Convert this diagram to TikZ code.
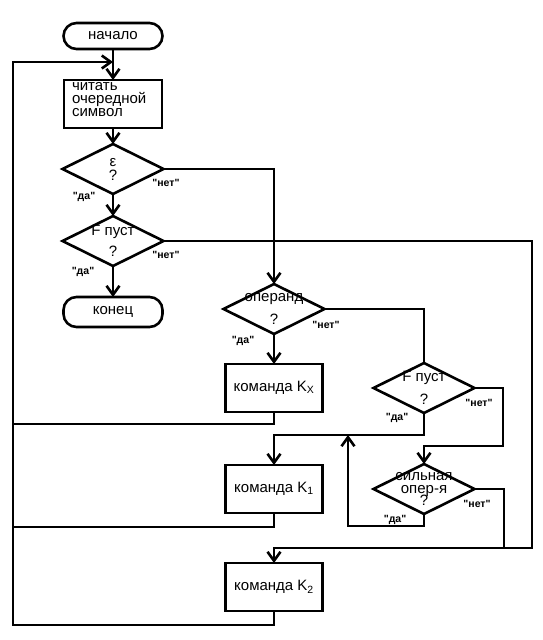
\documentclass[tikz,border=0pt]{standalone}
\usepackage{fontspec}
\setmainfont{Liberation Sans}
\usetikzlibrary{calc,arrows.meta,positioning,shapes.geometric}

\newcommand{\ans}[1]{\textquotedbl#1\textquotedbl}

\begin{document}
\begin{tikzpicture}[x=1pt,y=-1pt,line width=2.6pt,
    >={Straight Barb[length=9pt,width=13pt]},
    terminal/.style={
    % The shape:
    rectangle,minimum width=99pt,minimum height=26pt,rounded corners=13pt,
    % The rest
    draw,outer sep=0pt,font=\fontsize{15}{12.5}\selectfont},
    command/.style={
    % The shape:
    rectangle,minimum width=97pt,minimum height=48pt,
    % The rest
    draw,outer sep=0pt,font=\fontsize{15}{13}\selectfont},
    test/.style={
    % The shape:
    diamond,minimum width=101pt,minimum height=50pt,inner sep=0pt,
    % The rest
    draw,outer sep=0pt},
    question/.style={font=\fontsize{15}{12.5}\selectfont,align=center,inner sep=0pt,anchor=base},
    answer/.style={font=\fontsize{10.5}{10}\selectfont\bfseries,inner sep=0pt}]
    \useasboundingbox (0,0) rectangle (543,640);
    % left column
    \node (start) [terminal] at (113,36) {начало};
    \node (read) [command,minimum width=98pt,align=left,text width=82pt,inner xsep=8pt,inner ysep=0pt,
      text height=8pt,text depth=36pt,below=31pt of start] {читать\\очередной\\символ};
    \node (eps) [test,below=16pt of read,label={[question]center:{ε\\[1.5pt]?}}] {};
    \node (fempty) [test,below=22pt of eps,label={[question]center:{F пуст\\[7pt]?}}] {};
    \node (finish) [terminal,minimum height=30pt,below=31pt of fempty] {конец};
    % middle column
    \node (operand) [test,label={[question]center:{операнд\\[8pt]?}}] at (274,309) {};
    \node (kx) [command,below=30pt of operand] {команда K\textsubscript{X}};
    \node (k1) [command,below=53pt of kx] {команда K\textsubscript{1}};
    \node (k2) [command,below=50pt of k1] {команда K\textsubscript{2}};
    % right column
    \node (fempty2) [test,label={[question]center:{F пуст\\[8pt]?}}] at (424,388) {};
    \node (strong) [test,below=51pt of fempty2,
      label={[question]center:{сильная\\[0.5pt]опер-я\\[-2.5pt]?}}] {};
    % answers
    \node (epsno) [answer] at (166,183) {\ans{нет}};
    \node (epsyes) [answer] at (84,197) {\ans{да}};
    \node (fno) [answer] at (166,255) {\ans{нет}};
    \node (fyes) [answer] at (83,272) {\ans{да}};
    \node (opno) [answer] at (326,325) {\ans{нет}};
    \node (opyes) [answer] at (243,341) {\ans{да}};
    \node (f2no) [answer] at (479,403) {\ans{нет}};
    \node (f2yes) [answer] at (397,418) {\ans{да}};
    \node (strongno) [answer] at (477,504) {\ans{нет}};
    \node (strongyes) [answer] at (395,520) {\ans{да}};
    \coordinate (join) at (113,62);
    \coordinate (merge) at (348,435);
    % connectors
    \draw[->] (start) -- (read);
    \draw[->] (read) -- (eps);
    \draw[->] (eps) -- (fempty);
    \draw[->] (fempty) -- (finish);
    \draw[->] (eps.east) -| (operand.north);
    \draw[->] (operand) -- (kx);
    \draw (operand.east) -| (fempty2.north);
    \draw[->] (fempty2.south) -- ++(0,22) -| (k1.north);
    \draw[->] (fempty2.east) -| (503,446) -| (strong.north);
    \draw[->] (strong.south) -- ++(0,12) -| (merge);
    \draw (strong.east) -| (504,548);
    \draw[->] (fempty.east) -| (532,548) -| (k2.north);
    \draw (kx.south) |- (13,424);
    \draw (k1.south) |- (13,527);
    \draw[->] (k2.south) -- ++(0,14) -| (13,62) -- (join);
\end{tikzpicture}
\end{document}
